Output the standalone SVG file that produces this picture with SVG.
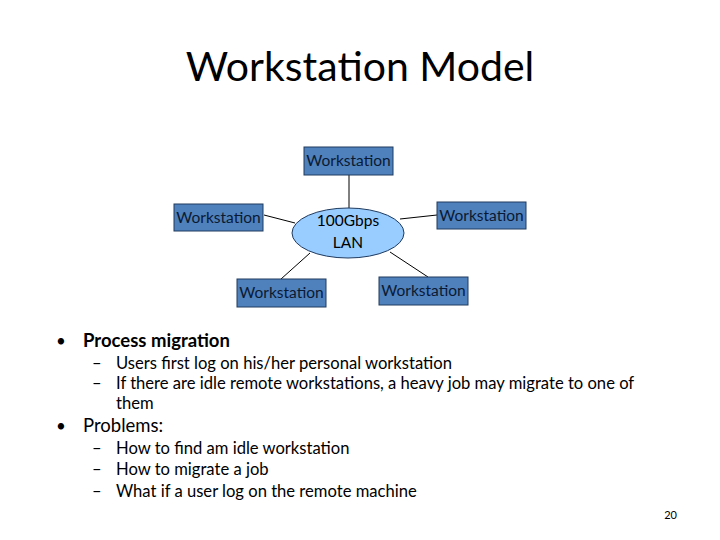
<svg xmlns="http://www.w3.org/2000/svg" width="720" height="540" viewBox="0 0 720 540">
<style>
text{font-family:Lato,"Open Sans",sans-serif;fill:#000}
.box rect{fill:#4f81bd;stroke:#1f3b5f;stroke-width:1}
.box text{font-size:15.5px;text-anchor:middle;fill:#0b1a33}
.b1{font-size:18.5px}.b2{font-size:16.6px}
line{stroke:#000;stroke-width:1}
</style>
<rect width="720" height="540" fill="#fff"/>
<text x="360" y="81" font-size="41" text-anchor="middle">Workstation Model</text>
<g id="connectors">
<line x1="349" y1="175" x2="349" y2="208"/>
<line x1="264" y1="215" x2="295" y2="223"/>
<line x1="400" y1="219" x2="437" y2="215"/>
<line x1="281" y1="279" x2="310" y2="253"/>
<line x1="390" y1="252" x2="428" y2="277"/>
</g>
<g id="lan"><ellipse cx="348" cy="233" rx="56" ry="25" fill="#99ccff" stroke="#1f3b5f"/>
<text x="348" y="226" font-size="15.5" text-anchor="middle">100Gbps</text><text x="348" y="248" font-size="15.5" text-anchor="middle">LAN</text></g>
<g id="ws-top" class="box"><rect x="304" y="147" width="89" height="28"/><text x="348.5" y="166">Workstation</text></g>
<g id="ws-left" class="box"><rect x="174" y="204" width="89" height="27"/><text x="218.5" y="223">Workstation</text></g>
<g id="ws-right" class="box"><rect x="437" y="202" width="89" height="27"/><text x="481.5" y="221">Workstation</text></g>
<g id="ws-bl" class="box"><rect x="237" y="279" width="89" height="28"/><text x="281.5" y="298">Workstation</text></g>
<g id="ws-br" class="box"><rect x="379" y="277" width="89" height="28"/><text x="423.5" y="296">Workstation</text></g>
<g id="bullets">
<text x="56" y="347" font-size="17" fill="#555">•</text>
<text x="83" y="347" class="b1" font-weight="bold">Process migration</text>
<text x="92" y="369" class="b2">–</text><text x="116" y="369" class="b2">Users first log on his/her personal workstation</text>
<text x="92" y="389" class="b2">–</text><text x="116" y="389" class="b2">If there are idle remote workstations, a heavy job may migrate to one of</text>
<text x="116" y="409" class="b2">them</text>
<text x="56" y="432" font-size="17" fill="#555">•</text>
<text x="83" y="432" class="b1">Problems:</text>
<text x="92" y="454" class="b2">–</text><text x="116" y="454" class="b2">How to find am idle workstation</text>
<text x="92" y="475" class="b2">–</text><text x="116" y="475" class="b2">How to migrate a job</text>
<text x="92" y="497" class="b2">–</text><text x="116" y="497" class="b2">What if a user log on the remote machine</text>
</g>
<text x="677" y="519" font-size="11" fill="#888" text-anchor="end">20</text>
</svg>
